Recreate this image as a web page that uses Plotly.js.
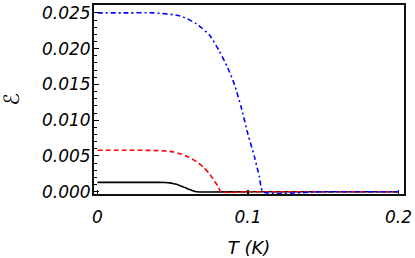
<!DOCTYPE html>
<html>
<head>
<meta charset="utf-8">
<script src="https://cdn.plot.ly/plotly-3.0.1.min.js"></script>
<style>
html,body{margin:0;padding:0;background:#fff;}
#chart{width:415px;height:258px;}
</style>
</head>
<body>
<div id="chart"></div>
<script>
// Black solid curve
var blackT = [0, 0.02, 0.04, 0.045, 0.048, 0.05, 0.0525, 0.0545, 0.0567, 0.0589, 0.0612, 0.0634, 0.0656, 0.1, 0.2];
var blackE = [0.0013, 0.0013, 0.0013, 0.00129, 0.00124, 0.00116, 0.00103, 0.00088, 0.0007, 0.00051, 0.00031, 0.00014, 0, 0, 0];
// Red dashed curve
var redT = [0, 0.02, 0.04, 0.05, 0.055, 0.06, 0.065, 0.07, 0.074, 0.078, 0.0805, 0.0818, 0.1, 0.2];
var redE = [0.0058, 0.0058, 0.00575, 0.00558, 0.0053, 0.0049, 0.0043, 0.0035, 0.0026, 0.0014, 0.0006, 0, 0, 0];
// Blue dash-dot curve
var blueT = [0, 0.02, 0.0366, 0.0545, 0.0656, 0.0744, 0.0811, 0.0866, 0.091, 0.0955, 0.0999, 0.1043, 0.1076, 0.1100, 0.15, 0.2];
var blueE = [0.025, 0.025, 0.0250, 0.0246, 0.0235, 0.0219, 0.0196, 0.0173, 0.0150, 0.0118, 0.0081, 0.0049, 0.0021, 0, 0, 0];
// Tick labels
var xTickVals = [0, 0.1, 0.2];
var xTickText = ['0', '0.1', '0.2'];
var yTickVals = [0, 0.005, 0.01, 0.015, 0.02, 0.025];
var yTickText = ['0.000', '0.005', '0.010', '0.015', '0.020', '0.025'];

var tickFont = {family: 'DejaVu Sans', size: 17, color: '#000', style: 'italic'};

var traces = [
  {x: blackT, y: blackE, mode: 'lines', line: {color: '#000', width: 1.6, shape: 'spline', smoothing: 0.6}, showlegend: false, hoverinfo: 'skip'},
  {x: redT, y: redE, mode: 'lines', line: {color: '#ff0000', width: 1.6, dash: '5px,3px', shape: 'spline', smoothing: 0.6}, showlegend: false, hoverinfo: 'skip'},
  {x: blueT, y: blueE, mode: 'lines', line: {color: '#0000ff', width: 1.6, dash: '5px,3px,2px,3px', shape: 'spline', smoothing: 0.6}, showlegend: false, hoverinfo: 'skip'}
];

var layout = {
  width: 415, height: 258,
  margin: {l: 94, r: 11, t: 3, b: 64},
  paper_bgcolor: '#fff', plot_bgcolor: '#fff',
  xaxis: {
    range: [-0.00233, 0.2037],
    tickvals: xTickVals, ticktext: xTickText,
    ticks: 'inside', ticklen: 4, tickwidth: 1.5, tickcolor: '#000',
    showline: true, linecolor: '#111', linewidth: 2, mirror: true,
    showgrid: false, zeroline: false,
    tickfont: tickFont,
    ticklabelstandoff: 7,
    automargin: false,
    title: {text: 'T (K)', font: {family: 'DejaVu Sans', size: 18, color: '#000', style: 'italic'}}
  },
  yaxis: {
    range: [-0.00032, 0.0261],
    tickvals: yTickVals, ticktext: yTickText,
    ticks: 'inside', ticklen: 5, tickwidth: 1, tickcolor: '#000',
    minor: {dtick: 0.001, tick0: 0, ticks: 'inside', ticklen: 3, tickwidth: 1, tickcolor: '#000', showgrid: false},
    showline: true, linecolor: '#111', linewidth: 2, mirror: true,
    showgrid: false, zeroline: false,
    tickfont: tickFont,
    ticklabelstandoff: -2,
    automargin: true,
    title: {text: 'ℰ', font: {family: 'DejaVu Sans', size: 21, color: '#000'}, standoff: 18}
  }
};

Plotly.newPlot('chart', traces, layout, {staticPlot: true, displayModeBar: false});
</script>
</body>
</html>
